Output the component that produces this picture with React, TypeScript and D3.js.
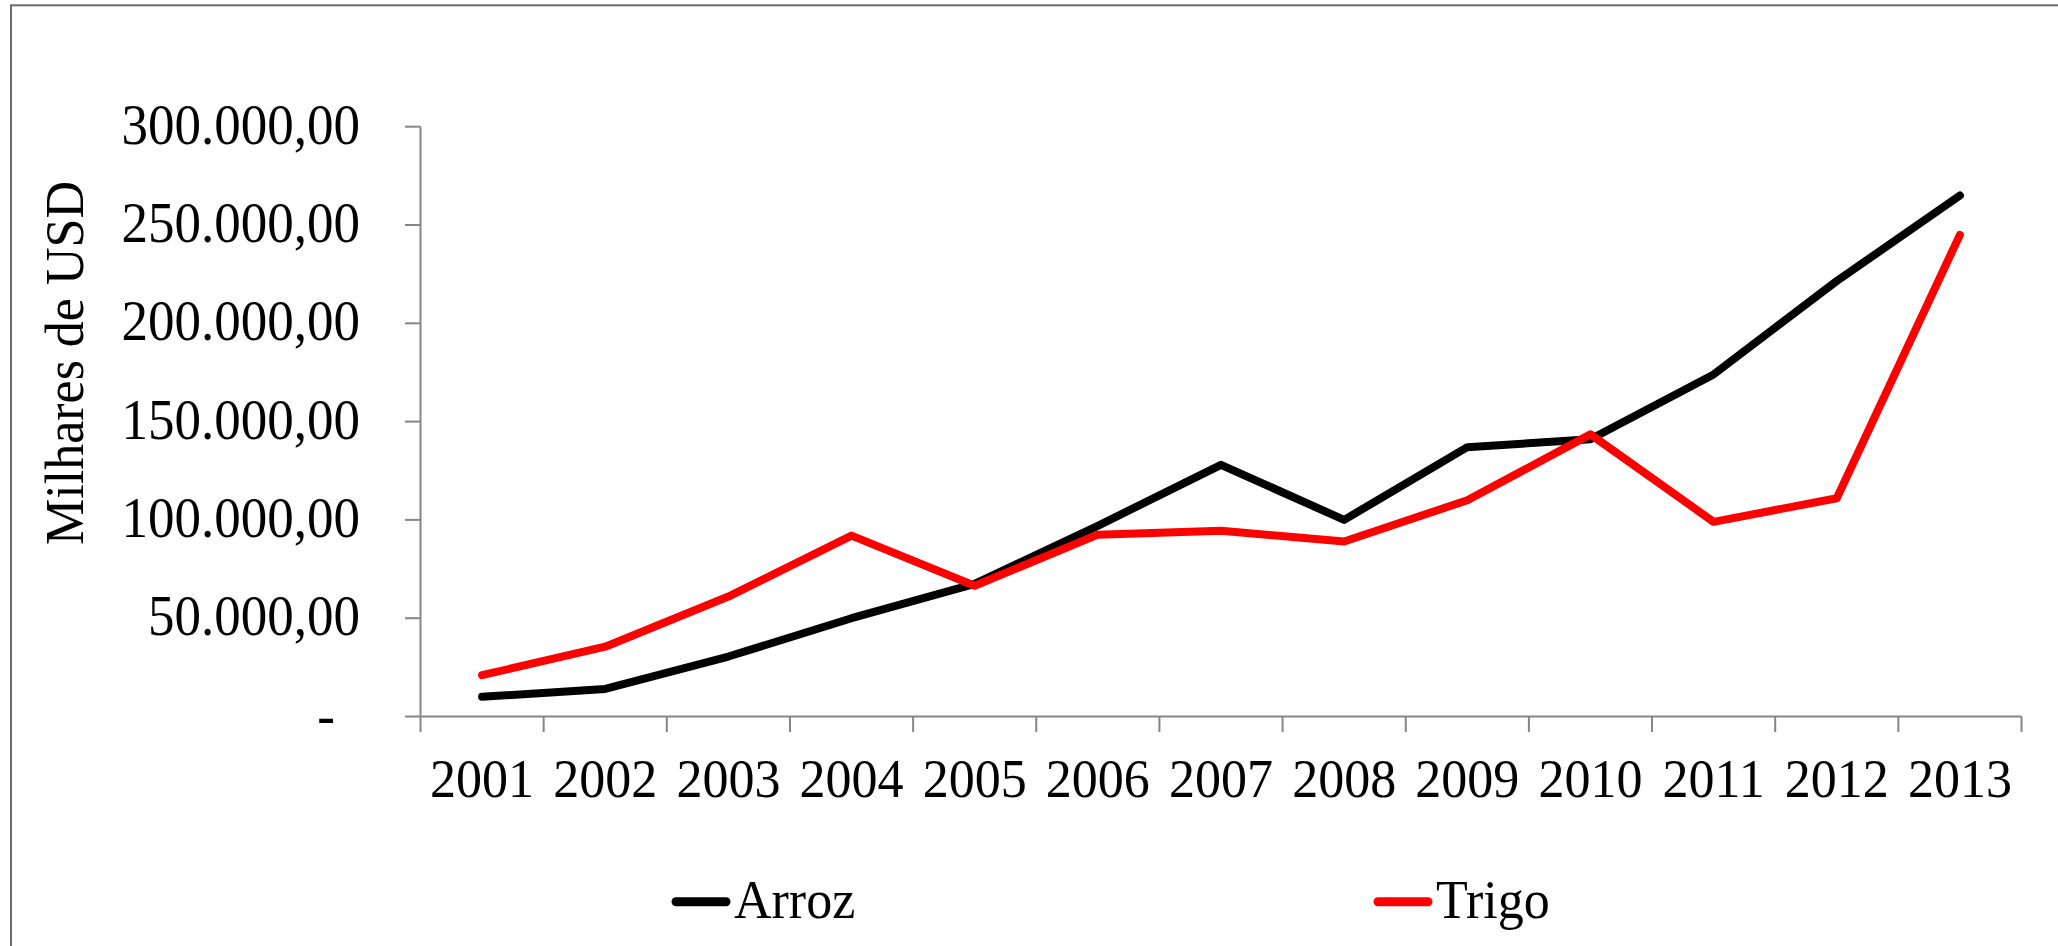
import React from "react";
import * as d3 from "d3";

const years = ["2001","2002","2003","2004","2005","2006","2007","2008","2009","2010","2011","2012","2013"];
const arroz = [10000,14000,30500,50000,67500,97000,128000,100000,137000,141000,174000,221500,265000];
const trigo = [21000,35500,61000,92000,66500,92500,94500,89000,110000,143500,99000,111000,245000];
const yTicks = [0,50000,100000,150000,200000,250000,300000];
const seriesNames = ["Arroz","Trigo"];
const seriesColors = ["#000000","#FF0000"];

const W = 2058, H = 946;
const font = "'Liberation Serif', 'Times New Roman', serif";
const axisColor = "#868686";
const SY = 1.06;

function T(props: { x: number; y: number; size: number; anchor?: string; rotate?: number; children: React.ReactNode }) {
  const { x, y, size, anchor, rotate, children } = props;
  const tr = rotate ? `translate(${x},${y}) rotate(${rotate}) scale(1,${SY})` : `translate(${x},${y}) scale(1,${SY})`;
  return (
    <text transform={tr} textAnchor={anchor || "start"} fontFamily={font} fontSize={size} fill="#000">{children}</text>
  );
}

export default function App() {
  const x = d3.scaleBand<string>().domain(years).range([420.5, 2021.5]);
  const y = d3.scaleLinear().domain([0, 300000]).range([716.5, 126.7]);
  const line = d3.line<number>()
    .x((_, i) => (x(years[i]) as number) + x.bandwidth() / 2)
    .y(d => y(d));
  const fmt = (v: number) => {
    if (v === 0) return "-";
    const s = d3.format(",.2f")(v);
    return s.replace(/,/g, "#").replace(".", ",").replace(/#/g, ".");
  };
  const x0 = 420.5, x1 = 2021.5, y0 = y(0);
  const boundaries = years.map(yr => x(yr) as number).concat([x1]);
  const legendX = [672, 1374];
  return (
    <svg width={W} height={H} style={{ position: "absolute", left: 0, top: 0, background: "#fff" }}>
      <rect x={0} y={0} width={W} height={H} fill="#fff" />
      <rect x={11} y={5.3} width={W + 20} height={H + 20} fill="none" stroke="#6a6a6a" strokeWidth={2} />
      {/* y axis */}
      <line x1={x0} x2={x0} y1={y(300000)} y2={y0} stroke={axisColor} strokeWidth={2} />
      {yTicks.map(t => (
        <g key={t}>
          <line x1={405} x2={x0} y1={y(t)} y2={y(t)} stroke={axisColor} strokeWidth={2} />
          <T x={t === 0 ? 335 : 360} y={y(t) + 17} size={53} anchor="end">{fmt(t)}</T>
        </g>
      ))}
      {/* x axis */}
      <line x1={x0} x2={x1} y1={y0} y2={y0} stroke={axisColor} strokeWidth={2} />
      {boundaries.map((b, i) => (
        <line key={i} x1={b} x2={b} y1={y0} y2={732} stroke={axisColor} strokeWidth={2} />
      ))}
      {years.map(yr => (
        <T key={yr} x={(x(yr) as number) + x.bandwidth() / 2} y={796.5} size={52} anchor="middle">{yr}</T>
      ))}
      <T x={83} y={363} size={52} anchor="middle" rotate={-90}>Milhares de USD</T>
      {/* series */}
      {[arroz, trigo].map((s, i) => (
        <path key={i} d={line(s) as string} fill="none" stroke={seriesColors[i]} strokeWidth={8} strokeLinejoin="round" strokeLinecap="round" />
      ))}
      {/* legend */}
      {seriesNames.map((n, i) => (
        <g key={n}>
          <line x1={legendX[i] + 4} x2={legendX[i] + 54} y1={901.7} y2={901.7} stroke={seriesColors[i]} strokeWidth={9} strokeLinecap="round" />
          <T x={legendX[i] + 62} y={918.3} size={52}>{n}</T>
        </g>
      ))}
    </svg>
  );
}
